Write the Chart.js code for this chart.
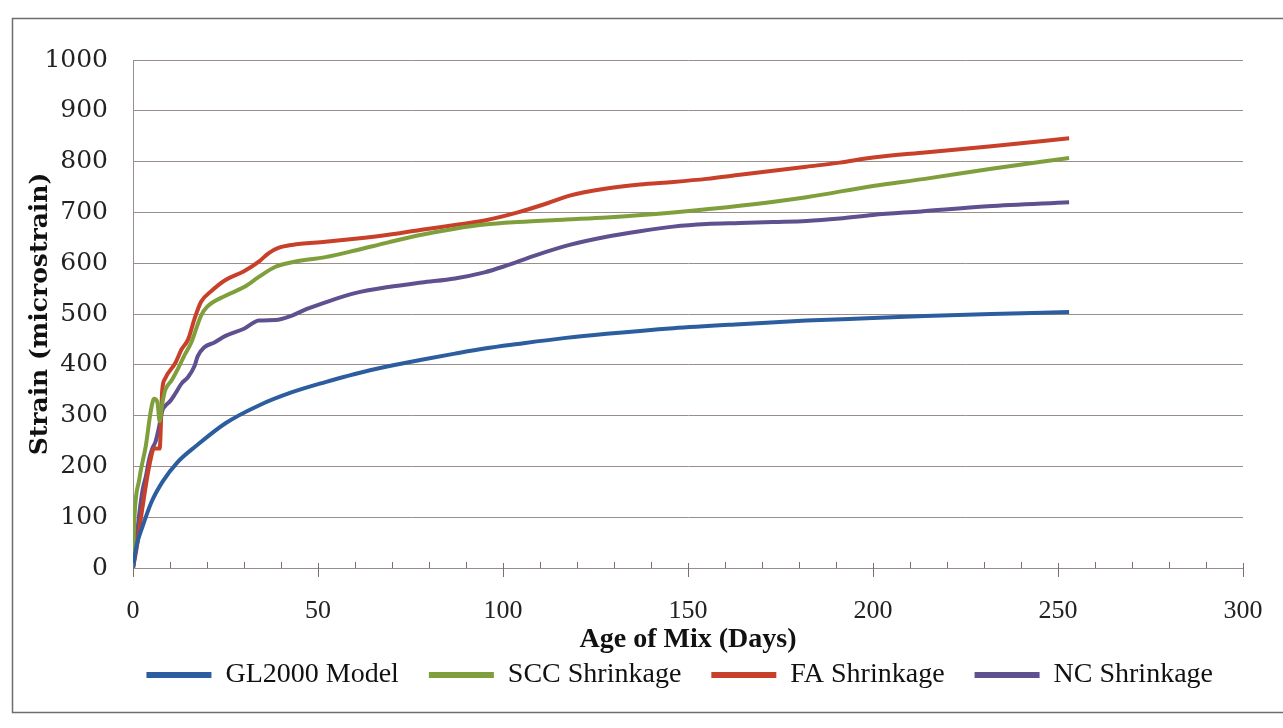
<!DOCTYPE html>
<html>
<head>
<meta charset="utf-8">
<script src="https://cdn.jsdelivr.net/npm/chart.js@4.4.1/dist/chart.umd.min.js"></script>
<style>
  html, body { margin: 0; padding: 0; background: #fff; }
  canvas { display: block; }
</style>
</head>
<body>
<canvas id="myChart" width="1283" height="728"></canvas>
<script>
// series (age in days, strain in microstrain)
const glDays   = [0, 1, 2.5, 5, 8, 12, 17, 25, 34, 43, 52, 60, 69, 78, 87, 95, 104, 117, 128, 146, 164, 182, 200, 214, 232, 253]
const glStrain = [0, 45, 80, 130, 170, 208, 240, 285, 320, 346, 366, 382, 397, 410, 422, 432, 441, 453, 461, 472, 480, 487, 492, 496, 500, 504]

const sccDays   = [0, 0.3, 1.7, 3.5, 4.8, 5.7, 6.6, 7.2, 7.9, 8.7, 10.5, 12.2, 14, 15.7, 18.4, 20, 25, 30, 34, 38.5, 43, 52, 60, 69, 78, 87, 95, 104, 117, 128, 146, 164, 182, 200, 214, 232, 253]
const sccStrain = [0, 85, 175, 242, 309, 333, 326, 289, 323, 350, 370, 393, 420, 443, 497, 514, 536, 553, 573, 593, 602, 612, 625, 641, 656, 668, 676, 681, 686, 690, 700, 713, 730, 752, 766, 786, 807]

const faDays   = [0, 1, 2.6, 4.4, 5.7, 7.2, 7.9, 8.7, 11.4, 13.1, 14.9, 16.6, 18.4, 21, 25, 30, 34, 36.7, 39.3, 43, 52, 60, 69, 78, 87, 95, 104, 112, 118, 128, 137, 146, 155, 164, 173, 182, 191, 200, 214, 232, 253]
const faStrain = [0, 40, 121, 201, 235, 235, 350, 373, 403, 430, 450, 490, 524, 544, 567, 584, 603, 620, 630, 636, 642, 648, 656, 666, 675, 684, 700, 718, 733, 747, 755, 760, 766, 774, 782, 790, 798, 808, 818, 830, 846]

const ncDays   = [0, 0.9, 1.7, 2.6, 3.5, 4.4, 5.2, 6.1, 7, 7.9, 8.7, 10.1, 11.4, 13.1, 14.9, 16.6, 17.5, 19.2, 22, 25, 30, 34, 38.5, 43, 47, 52, 60, 69, 78, 87, 95, 100, 109, 118, 128, 137, 146, 155, 164, 173, 182, 191, 200, 213, 231, 253]
const ncStrain = [0, 54, 107, 154, 181, 215, 235, 249, 276, 309, 319, 329, 343, 363, 376, 397, 417, 434, 444, 457, 471, 487, 488, 497, 510, 523, 541, 553, 562, 570, 582, 593, 616, 636, 652, 663, 672, 677, 679, 681, 683, 688, 695, 702, 712, 720]

const seriesNames = ['GL2000 Model', 'SCC Shrinkage', 'FA Shrinkage', 'NC Shrinkage']
const xTicks = [0, 50, 100, 150, 200, 250, 300]
const yTicks = [0, 100, 200, 300, 400, 500, 600, 700, 800, 900, 1000]

const toPoints = (days, vals) => days.map((d, i) => ({ x: d, y: vals[i] }))

const gridColor = '#9a8e8c'
const serif = '"Liberation Serif", "Times New Roman", serif'
const bookish = '"DejaVu Serif", serif'

// outer frame of the chart area, like the excel border in the scan
const framePlugin = {
  id: 'frame',
  beforeDraw(chart) {
    const c = chart.ctx
    c.save()
    c.fillStyle = '#fff'
    c.fillRect(0, 0, chart.width, chart.height)
    c.strokeStyle = '#6d6d6d'
    c.lineWidth = 1.5
    c.strokeRect(12.5, 18.5, 1300, 694)
    c.restore()
  }
}

// tick marks every 10 days, bigger ones on the labels
const minorTicks = {
  id: 'minorTicks',
  afterDraw(chart) {
    const xs = chart.scales.x
    const y0 = chart.chartArea.bottom
    const c = chart.ctx
    c.save()
    c.strokeStyle = '#7a706e'
    c.lineWidth = 1
    for (let d = 0; d <= 300; d += 10) {
      const px = Math.round(xs.getPixelForValue(d)) + 0.5
      c.beginPath()
      if (d % 50 === 0) {
        c.moveTo(px, y0 - 5)
        c.lineTo(px, y0 + 9)
      } else {
        c.moveTo(px, y0 - 6)
        c.lineTo(px, y0)
      }
      c.stroke()
    }
    c.restore()
  }
}

const colors = ['#2c5d9f', '#7f9f3d', '#c8402a', '#5f508f']
const allDays = [glDays, sccDays, faDays, ncDays]
const allVals = [glStrain, sccStrain, faStrain, ncStrain]

const data = {
  datasets: seriesNames.map((name, i) => ({
    label: name,
    data: toPoints(allDays[i], allVals[i]),
    borderColor: colors[i],
    backgroundColor: colors[i],
    borderWidth: 4,
    pointRadius: 0,
    fill: false,
    cubicInterpolationMode: 'monotone'
  }))
}

const config = {
  type: 'line',
  data,
  options: {
    responsive: false,
    animation: false,
    layout: { padding: { left: 20, right: 40, top: 60, bottom: 29 } },
    plugins: {
      tooltip: { enabled: false },
      legend: {
        position: 'bottom',
        align: 'end',
        labels: {
          usePointStyle: true,
          pointStyle: 'line',
          pointStyleWidth: 65,
          padding: 30,
          color: '#111',
          font: { family: serif, size: 28 },
          generateLabels(chart) {
            // thicker sample lines, as in the scan
            return Chart.defaults.plugins.legend.labels.generateLabels(chart)
              .map(l => Object.assign(l, { lineWidth: 6 }))
          }
        }
      }
    },
    scales: {
      x: {
        type: 'linear',
        min: 0,
        max: 300,
        afterBuildTicks(scale) { scale.ticks = xTicks.map(v => ({ value: v })) },
        afterFit(scale) { scale.height = 63 },
        grid: { display: false },
        border: { display: true, color: gridColor, width: 1 },
        ticks: {
          padding: 20,
          maxRotation: 0,
          color: '#222',
          font: { family: serif, size: 26 },
          callback: v => String(v)
        },
        title: {
          display: true,
          text: 'Age of Mix (Days)',
          color: '#111',
          font: { family: serif, size: 28, weight: 'bold' },
          padding: { top: 0, bottom: -26 }
        }
      },
      y: {
        min: 0,
        max: 1000,
        afterBuildTicks(scale) { scale.ticks = yTicks.map(v => ({ value: v })) },
        afterFit(scale) { scale.width = 113 },
        grid: { color: gridColor, lineWidth: 1, drawTicks: false },
        border: { display: true, color: gridColor, width: 1 },
        ticks: {
          padding: 25,
          color: '#222',
          font: { family: bookish, size: 25 },
          callback: v => String(v)
        },
        title: {
          display: true,
          text: 'Strain (microstrain)',
          color: '#111',
          font: { family: bookish, size: 25, weight: 'bold' },
          padding: { top: 5, bottom: 0 }
        }
      }
    }
  },
  plugins: [framePlugin, minorTicks]
}

const myChart = new Chart(document.getElementById('myChart').getContext('2d'), config)
</script>
</body>
</html>
